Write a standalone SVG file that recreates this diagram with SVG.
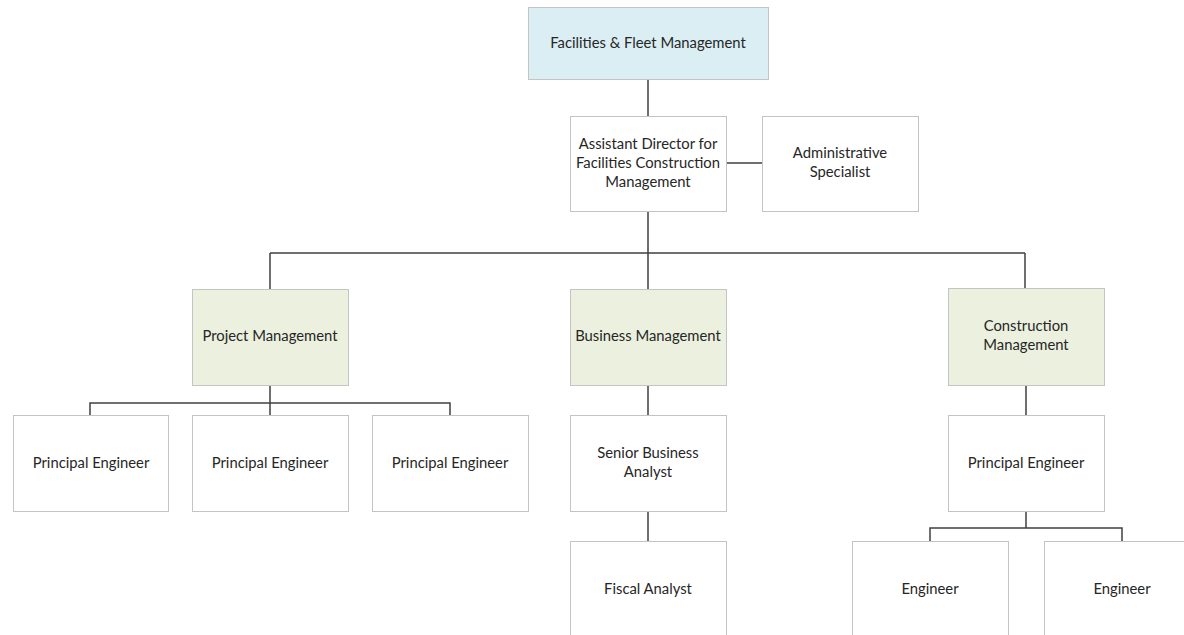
<svg xmlns="http://www.w3.org/2000/svg" width="1184" height="635" viewBox="0 0 1184 635">
<style>
.box{fill:#ffffff;stroke:#c4c4c4;stroke-width:1}
.blue{fill:#daeef3}
.green{fill:#ebf1de}
.conn{fill:none;stroke:#404040;stroke-width:1.5}
text{font-family:Lato,"Liberation Sans",sans-serif;font-size:14.8px;fill:#262626;text-anchor:middle}
</style>
<rect width="1184" height="635" fill="#ffffff"/>
<g id="connectors">
<path class="conn" d="M648,79V116M726,163H762M648,211V253M270,253H1025M270,253V289M648,253V289M1025,253V288"/>
<path class="conn" d="M270,385V415M90,415V403H450V415"/>
<path class="conn" d="M648,385V415M648,511V541"/>
<path class="conn" d="M1026,385V415M1026,511V528M930,541V528H1122V541"/>
</g>
<g id="n-ffm"><rect class="box blue" x="528.5" y="7.5" width="240" height="72"/><text x="648" y="48">Facilities &amp; Fleet Management</text></g>
<g id="n-ad"><rect class="box" x="570.5" y="116.5" width="156" height="95"/><text x="648" y="149">Assistant Director for</text><text x="648" y="168">Facilities Construction</text><text x="648" y="187">Management</text></g>
<g id="n-as"><rect class="box" x="762.5" y="116.5" width="156" height="95"/><text x="840" y="158">Administrative</text><text x="840" y="177">Specialist</text></g>
<g id="n-pm"><rect class="box green" x="192.5" y="289.5" width="156" height="96"/><text x="270" y="341">Project Management</text></g>
<g id="n-bm"><rect class="box green" x="570.5" y="289.5" width="156" height="96"/><text x="648" y="341">Business Management</text></g>
<g id="n-cm"><rect class="box green" x="948.5" y="288.5" width="156" height="97"/><text x="1026" y="331">Construction</text><text x="1026" y="350">Management</text></g>
<g id="n-pe1"><rect class="box" x="13.5" y="415.5" width="155" height="96"/><text x="91" y="468">Principal Engineer</text></g>
<g id="n-pe2"><rect class="box" x="192.5" y="415.5" width="156" height="96"/><text x="270" y="468">Principal Engineer</text></g>
<g id="n-pe3"><rect class="box" x="372.5" y="415.5" width="156" height="96"/><text x="450" y="468">Principal Engineer</text></g>
<g id="n-sba"><rect class="box" x="570.5" y="415.5" width="156" height="96"/><text x="648" y="458">Senior Business</text><text x="648" y="477">Analyst</text></g>
<g id="n-pe4"><rect class="box" x="948.5" y="415.5" width="156" height="96"/><text x="1026" y="468">Principal Engineer</text></g>
<g id="n-fa"><rect class="box" x="570.5" y="541.5" width="156" height="110"/><text x="648" y="594">Fiscal Analyst</text></g>
<g id="n-e1"><rect class="box" x="852.5" y="541.5" width="156" height="110"/><text x="930" y="594">Engineer</text></g>
<g id="n-e2"><rect class="box" x="1044.5" y="541.5" width="156" height="110"/><text x="1122" y="594">Engineer</text></g>
</svg>
